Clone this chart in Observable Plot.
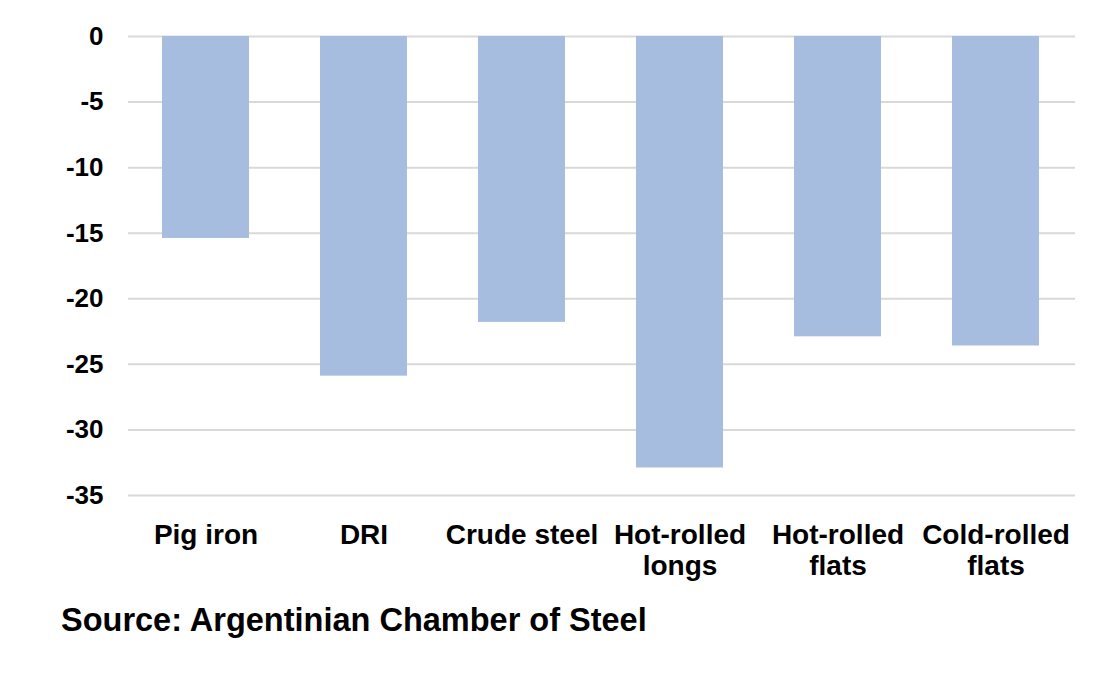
<!DOCTYPE html>
<html>
<head>
<meta charset="utf-8">
<script src="https://cdn.jsdelivr.net/npm/d3@7"></script>
<script src="https://cdn.jsdelivr.net/npm/@observablehq/plot@0.6"></script>
<style>
  html, body { margin: 0; padding: 0; background: #fff; }
  #chart { width: 1100px; }
  #source {
    font-family: "Liberation Sans", Arial, sans-serif;
    font-weight: bold;
    font-size: 32.5px;
    line-height: 1.2;
    margin-top: 11px;
    padding-left: 61px;
    color: #000;
  }
</style>
</head>
<body>
<div id="chart"></div>
<div id="source">Source: Argentinian Chamber of Steel</div>
<script>
const categories = ["Pig iron", "DRI", "Crude steel", "Hot-rolled longs", "Hot-rolled flats", "Cold-rolled flats"];
const labels = ["Pig iron", "DRI", "Crude steel", "Hot-rolled\nlongs", "Hot-rolled\nflats", "Cold-rolled\nflats"];
const values = [-15.4, -25.9, -21.8, -32.9, -22.9, -23.6];
const yTicks = [0, -5, -10, -15, -20, -25, -30, -35];

const data = categories.map((c, i) => ({category: c, value: values[i]}));
const labelOf = new Map(categories.map((c, i) => [c, labels[i]]));

const chart = Plot.plot({
  width: 1100,
  height: 590,
  marginTop: 36,
  marginBottom: 95,
  marginLeft: 128,
  marginRight: 25,
  style: {fontFamily: "'Liberation Sans', Arial, sans-serif", fontWeight: "bold", fontSize: "28px", color: "#000", background: "#fff"},
  x: {domain: categories, range: [126, 1074], paddingInner: 0.45, paddingOuter: 0.225, label: null},
  y: {domain: [-35, 0], ticks: yTicks, label: null},
  marks: [
    Plot.gridY(yTicks, {stroke: "#d9d9d9", strokeOpacity: 1, strokeWidth: 2}),
    Plot.barY(data, {x: "category", y: "value", fill: "#a6bddf"}),
    Plot.axisY(yTicks, {tickSize: 0, tickPadding: 25, fontSize: 26, fontWeight: "bold", fill: "#000", label: null, tickFormat: d => String(d)}),
    Plot.axisX({tickSize: 0, tickPadding: 27, fontSize: 28, fontWeight: "bold", fill: "#000", lineHeight: 1.1, tickFormat: d => labelOf.get(d), label: null})
  ]
});
document.getElementById("chart").appendChild(chart);
</script>
</body>
</html>
